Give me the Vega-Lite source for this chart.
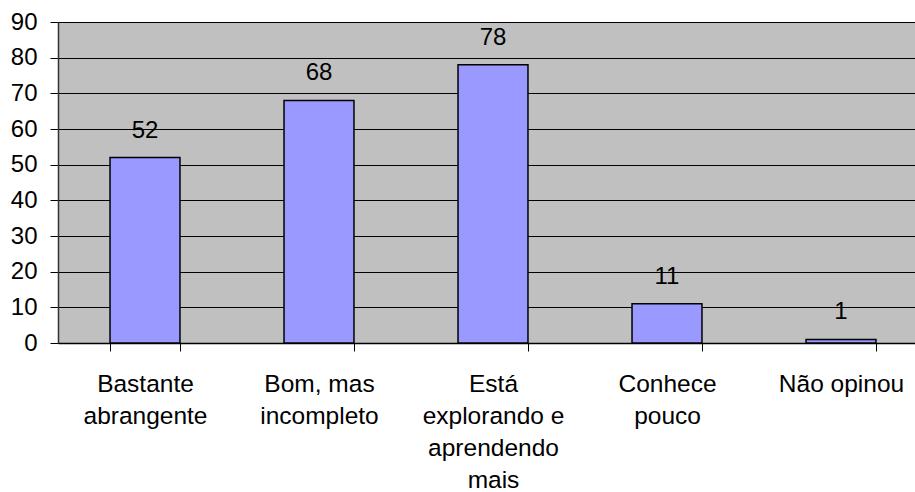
{
  "$schema": "https://vega.github.io/schema/vega-lite/v6.json",
  "autosize": {"type": "none"},
  "width": 857,
  "height": 321,
  "padding": {"left": 58, "top": 22, "right": 0, "bottom": 149},
  "background": "white",
  "config": {
    "font": "Liberation Sans",
    "view": {"fill": "#c0c0c0", "stroke": "#808080", "strokeWidth": 1}
  },
  "data": {
    "values": [
      {"categoria": "Bastante|abrangente", "valor": 52},
      {"categoria": "Bom, mas|incompleto", "valor": 68},
      {"categoria": "Está|explorando e|aprendendo|mais", "valor": 78},
      {"categoria": "Conhece|pouco", "valor": 11},
      {"categoria": "Não opinou", "valor": 1}
    ]
  },
  "encoding": {
    "x": {
      "field": "categoria",
      "type": "nominal",
      "sort": null,
      "scale": {"range": [0, 870], "paddingInner": 0.598, "paddingOuter": 0.299},
      "axis": {
        "title": null,
        "labelAngle": 0,
        "labelExpr": "split(datum.label, '|')",
        "labelFontSize": 24.5,
        "labelColor": "black",
        "labelLineHeight": 32,
        "labelPadding": 21,
        "labelBaseline": "top",
        "tickBand": "extent",
        "tickSize": 8,
        "tickColor": "black",
        "domainColor": "black",
        "domainWidth": 1.5,
        "grid": false
      }
    },
    "y": {
      "field": "valor",
      "type": "quantitative",
      "scale": {"domain": [0, 90], "nice": false},
      "axis": {
        "title": null,
        "values": [0, 10, 20, 30, 40, 50, 60, 70, 80, 90],
        "labelFontSize": 24,
        "labelColor": "black",
        "labelPadding": 13,
        "tickSize": 8,
        "tickColor": "black",
        "domainColor": "#333333",
        "domainWidth": 1.5,
        "grid": true,
        "gridColor": "black",
        "gridWidth": 1,
        "gridOpacity": 1
      }
    }
  },
  "layer": [
    {
      "mark": {"type": "bar", "fill": "#9999ff", "stroke": "black", "strokeWidth": 1.5}
    },
    {
      "mark": {"type": "text", "fontSize": 24, "color": "black", "baseline": "alphabetic", "dy": -20},
      "encoding": {"text": {"field": "valor", "type": "quantitative"}}
    }
  ]
}
